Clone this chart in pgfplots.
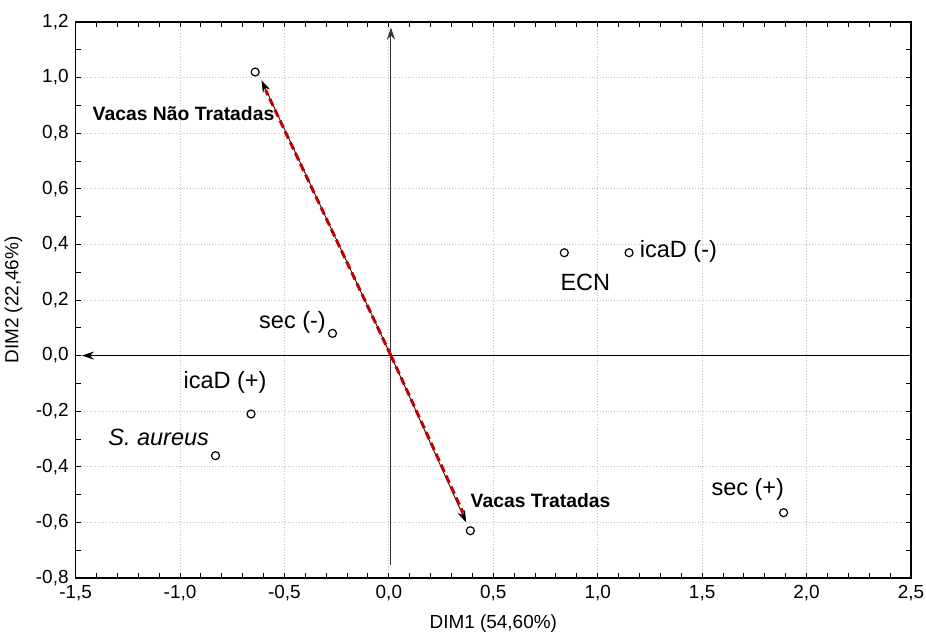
\documentclass[border=0pt]{standalone}
\usepackage{fontspec}
\setmainfont{Liberation Sans}
\usepackage{pgfplots}
\pgfplotsset{compat=1.18}
\usetikzlibrary{arrows.meta, calc}

\definecolor{arrowred}{RGB}{192,0,0}

\begin{document}
\begin{tikzpicture}[
  lbl/.style={inner sep=0pt, font=\fontsize{11.8}{13}\selectfont},
  blbl/.style={inner sep=0pt, font=\fontsize{9.7}{11}\selectfont\bfseries},
]
\begin{axis}[
  scale only axis, width=417.7bp, height=278bp,
  xmin=-1.5, xmax=2.5, ymin=-0.8, ymax=1.2,
  xtick={-1.5,-1.0,-0.5,0,0.5,1.0,1.5,2.0,2.5},
  ytick={-0.8,-0.6,-0.4,-0.2,0,0.2,0.4,0.6,0.8,1.0,1.2},
  minor x tick num=4, minor y tick num=1,
  tick align=inside, major tick length=2.5bp, minor tick length=2.5bp,
  tick style={black, line width=0.5pt},
  axis line style={line width=0.8pt},
  grid=major, grid style={densely dotted, gray!50, line width=0.4pt},
  /pgf/number format/fixed, /pgf/number format/fixed zerofill,
  /pgf/number format/precision=1, /pgf/number format/use comma,
  /pgf/number format/assume math mode=true,
  ticklabel style={font=\fontsize{9.5}{11}\selectfont},
  label style={font=\fontsize{9.5}{11}\selectfont},
  xlabel={DIM1 (54,60\%)}, ylabel={DIM2 (22,46\%)},
  clip=false,
]
% axes of the map
\addplot[black, line width=0.6pt, -{Stealth[length=6bp,width=4bp]}] coordinates {(2.5,0) (-1.47,0)};
\addplot[black!80, line width=0.5pt, -{Stealth[length=6bp,width=4bp]}] coordinates {(0.01,-0.755) (0.01,1.18)};

% vectors for the cows
\addplot[black, line width=0.4pt, -{Stealth[length=6bp,width=4bp]}] coordinates {(0.01,0) (-0.61,0.99)};
\addplot[black, line width=0.4pt, -{Stealth[length=6bp,width=4bp]}] coordinates {(0.01,0) (0.37,-0.6)};
\addplot[arrowred, line width=1.5bp, dash pattern=on 4bp off 2bp] coordinates {(0.01,0) (-0.59,0.955)};
\addplot[arrowred, line width=1.5bp, dash pattern=on 4bp off 2bp] coordinates {(0.01,0) (0.355,-0.565)};

% category points
\addplot[only marks, mark=o, mark size=2bp, mark options={fill=white, line width=0.6pt}] coordinates {
  (-0.64,1.02) (0.39,-0.63) (-0.27,0.08) (-0.66,-0.21)
  (-0.83,-0.36) (0.84,0.37) (1.15,0.37) (1.89,-0.565)
};

\node[blbl, anchor=west] at (axis cs:-1.42,0.87) {Vacas Não Tratadas};
\node[blbl, anchor=west] at (axis cs:0.39,-0.52) {Vacas Tratadas};
\node[lbl, anchor=east] at (axis cs:-0.30,0.12) {sec (-)};
\node[lbl, anchor=west] at (axis cs:-0.985,-0.097) {icaD (+)};
\node[lbl, anchor=west, font=\fontsize{11.8}{13}\selectfont\itshape] at (axis cs:-1.345,-0.295) {S. aureus};
\node[lbl, anchor=west] at (axis cs:0.82,0.264) {ECN};
\node[lbl, anchor=west] at (axis cs:1.20,0.374) {icaD (-)};
\node[lbl, anchor=west] at (axis cs:1.543,-0.48) {sec (+)};
\end{axis}
\pgfresetboundingbox
\path ($(current axis.south west)+(-37.8bp,-29bp)$) rectangle ($(current axis.north east)+(7.5bp,11bp)$);
\end{tikzpicture}
\end{document}
